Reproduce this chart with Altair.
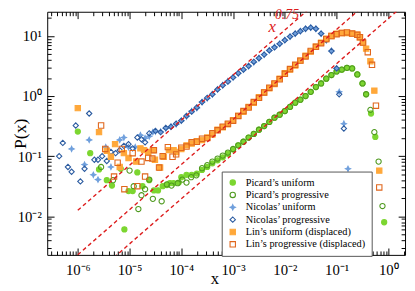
import json
import altair as alt
import pandas as pd

# ---------------- data (log10 of x and P(x)) ----------------
SERIES = ["Picard’s uniform", "Picard’s progressive", "Nicolas’ uniform",
          "Nicolas’ progressive", "Lin’s uniform (displaced)", "Lin’s progressive (displaced)"]

picard_u_lx = [-6.00, -5.76, -5.59, -5.44, -5.34, -5.17, -5.10, -5.02, -4.94, -4.85, -4.75, -4.62,
               -4.53, -4.45, -4.36, -4.28, -4.22, -4.15, -4.05,
               -4.0, -3.9, -3.8, -3.7, -3.6, -3.5, -3.4, -3.3, -3.2, -3.1, -3.0, -2.9, -2.8, -2.7,
               -2.6, -2.5, -2.4, -2.3, -2.2, -2.1, -2.0, -1.9, -1.8, -1.7, -1.6, -1.5, -1.4, -1.3,
               -1.2, -1.1, -1.0, -0.9, -0.8, -0.7, -0.6, -0.5,
               -0.43, -0.335, -0.252, -0.081]
picard_u_ly = [-0.59, -0.95, -1.22, -1.40, -1.49, -1.21, -2.22, -1.58, -1.58, -1.27, -1.50, -1.40,
               -1.57, -1.57, -1.50, -1.48, -1.45, -1.45, -1.44,
               -1.35, -1.31, -1.31, -1.29, -1.23, -1.18, -1.12, -1.07, -1.02, -0.96, -0.89, -0.82,
               -0.76, -0.69, -0.63, -0.56, -0.50, -0.43, -0.36, -0.31, -0.25, -0.18, -0.11, -0.06,
               0.00, 0.07, 0.15, 0.21, 0.29, 0.35, 0.41, 0.44, 0.47, 0.46, 0.36, 0.21,
               0.03, -0.29, -0.68, -2.10]

picard_p_lx = [-5.55, -5.32, -5.00, -4.92, -4.83, -4.77, -4.70, -4.62, -4.55, -4.38, -4.28, -4.19,
               -4.07, -3.98, -3.90, -3.81, -3.71,
               -3.6, -3.5, -3.4, -3.3, -3.2, -3.1, -3.0, -2.9, -2.8, -2.7, -2.6, -2.5, -2.4, -2.3,
               -2.2, -2.1, -2.0, -1.9, -1.8, -1.7, -1.6, -1.5, -1.4, -1.3, -1.2, -1.1, -1.0, -0.9,
               -0.8, -0.7, -0.6, -0.5,
               -0.43, -0.347, -0.271, -0.189, -0.114]
picard_p_ly = [-1.18, -1.40, -1.24, -1.50, -1.88, -1.65, -1.55, -1.39, -1.71, -1.75, -1.47, -1.49,
               -1.45, -1.39, -1.44, -1.35, -1.32,
               -1.20, -1.15, -1.09, -1.04, -0.99, -0.94, -0.88, -0.82, -0.76, -0.69, -0.63, -0.56,
               -0.50, -0.43, -0.36, -0.31, -0.25, -0.18, -0.11, -0.06, 0.00, 0.07, 0.15, 0.21,
               0.29, 0.35, 0.41, 0.44, 0.47, 0.46, 0.36, 0.21,
               0.03, -0.23, -0.60, -1.09, -1.83]

nicolas_u_lx = [-6.12, -5.87, -5.78, -5.70, -5.61, -5.46, -5.36, -5.19, -5.11, -5.02, -4.89, -4.79,
                -4.70, -4.62, -4.55,
                -4.5, -4.4, -4.3, -4.2, -4.1, -4.0, -3.9, -3.8, -3.7, -3.6, -3.5, -3.4, -3.3, -3.2,
                -3.1, -3.0, -2.9, -2.8, -2.7, -2.6, -2.5, -2.4, -2.3, -2.2, -2.1, -2.0, -1.9, -1.8,
                -1.7, -1.6, -1.5, -1.4, -1.3, -1.2, -1.1, -1.0,
                -0.95, -0.86, -0.78]
nicolas_u_ly = [-0.88, -1.14, -0.73, -1.31, -1.39, -0.85, -1.18, -0.73, -0.69, -0.85, -0.85, -0.65,
                -0.70, -0.67, -0.60,
                -0.59, -0.59, -0.54, -0.51, -0.47, -0.41, -0.34, -0.25, -0.20, -0.10, -0.04, 0.03,
                0.11, 0.18, 0.25, 0.31, 0.38, 0.44, 0.50, 0.56, 0.63, 0.69, 0.76, 0.82, 0.87, 0.93,
                0.99, 1.04, 1.08, 1.12, 1.14, 1.12, 1.04, 0.93, 0.75, 0.46,
                0.07, -0.46, -1.21]

nicolas_p_lx = [-6.36, -6.29, -6.19, -6.12, -6.04, -5.95, -5.87, -5.78, -5.68, -5.61, -5.53, -5.44,
                -5.36, -5.27, -5.19, -5.11, -5.02, -4.94, -4.85, -4.77, -4.70, -4.62,
                -4.5, -4.4, -4.3, -4.2, -4.1, -4.0, -3.9, -3.8, -3.7, -3.6, -3.5, -3.4, -3.3, -3.2,
                -3.1, -3.0, -2.9, -2.8, -2.7, -2.6, -2.5, -2.4, -2.3, -2.2, -2.1, -2.0, -1.9, -1.8,
                -1.7, -1.6, -1.5, -1.4, -1.3, -1.2, -1.1, -1.0,
                -0.95, -0.86]
nicolas_p_ly = [-1.00, -0.78, -1.18, -1.26, -0.49, -1.42, -1.21, -0.29, -1.06, -1.06, -1.00, -1.08,
                -0.93, -0.95, -0.90, -0.83, -0.80, -0.87, -0.69, -0.72, -0.77, -0.62,
                -0.58, -0.60, -0.53, -0.51, -0.46, -0.41, -0.33, -0.26, -0.19, -0.10, -0.03, 0.03,
                0.11, 0.18, 0.24, 0.31, 0.38, 0.44, 0.50, 0.57, 0.63, 0.69, 0.76, 0.81, 0.87, 0.93,
                0.99, 1.04, 1.08, 1.12, 1.14, 1.12, 1.04, 0.93, 0.75, 0.46,
                0.03, -0.54]

lin_u_lx = [-6.00, -5.59, -5.44, -5.36, -5.28, -5.19, -5.11, -5.02, -4.87, -4.79, -4.72, -4.64,
            -4.55, -4.51, -4.41, -4.34, -4.24, -4.15,
            -4.1, -4.0, -3.9, -3.8, -3.7, -3.6, -3.5, -3.4, -3.3, -3.2, -3.1, -3.0, -2.9, -2.8,
            -2.7, -2.6, -2.5, -2.4, -2.3, -2.2, -2.1, -2.0, -1.9, -1.8, -1.7, -1.6, -1.5, -1.4,
            -1.3, -1.2, -1.1, -1.0, -0.9, -0.8, -0.7, -0.6,
            -0.55, -0.49, -0.43, -0.347, -0.271, -0.176]
lin_u_ly = [-0.20, -0.60, -0.91, -1.01, -0.80, -1.18, -0.95, -1.03, -1.09, -0.87, -0.90, -0.93,
            -0.90, -1.06, -1.19, -1.01, -0.90, -0.90,
            -0.93, -0.88, -0.82, -0.79, -0.75, -0.73, -0.69, -0.64, -0.56, -0.52, -0.47, -0.40,
            -0.33, -0.26, -0.18, -0.11, -0.02, 0.06, 0.13, 0.20, 0.29, 0.38, 0.44, 0.51, 0.59,
            0.67, 0.74, 0.82, 0.89, 0.95, 1.00, 1.04, 1.05, 1.05, 1.04, 1.02,
            0.98, 0.89, 0.79, 0.58, 0.09, -1.24]

lin_p_lx = [-5.55, -5.47, -5.30, -5.23, -5.15, -5.10, -4.94, -4.85, -4.77, -4.70, -4.64, -4.56,
            -4.53, -4.43, -4.36, -4.26, -4.17,
            -4.1, -4.0, -3.9, -3.8, -3.7, -3.6, -3.5, -3.4, -3.3, -3.2, -3.1, -3.0, -2.9, -2.8,
            -2.7, -2.6, -2.5, -2.4, -2.3, -2.2, -2.1, -2.0, -1.9, -1.8, -1.7, -1.6, -1.5, -1.4,
            -1.3, -1.2, -1.1, -1.0, -0.9, -0.8, -0.7, -0.6,
            -0.55, -0.49, -0.398, -0.316, -0.24, -0.176]
lin_p_ly = [-0.49, -0.88, -1.34, -1.11, -0.88, -1.55, -0.95, -1.50, -1.09, -1.34, -1.03, -1.04,
            -0.90, -1.19, -1.00, -0.85, -1.01,
            -0.97, -0.86, -0.84, -0.77, -0.76, -0.71, -0.70, -0.62, -0.57, -0.51, -0.46, -0.41,
            -0.33, -0.25, -0.19, -0.10, -0.03, 0.06, 0.14, 0.21, 0.28, 0.37, 0.45, 0.52, 0.59,
            0.66, 0.75, 0.82, 0.88, 0.95, 1.00, 1.03, 1.05, 1.06, 1.04, 1.02,
            0.98, 0.89, 0.73, 0.52, -0.16, -1.52]

# x^0.75 guide lines: prefactors and x extent
guide_prefactors = [398.0, 72.4, 19.5]
guide_x_ends = [1e-6, 10.0]

# axis ticks
x_major = [1e-6, 1e-5, 1e-4, 1e-3, 1e-2, 1e-1, 1.0]
x_major_labels = ["10⁻⁶", "10⁻⁵", "10⁻⁴", "10⁻³", "10⁻²", "10⁻¹", "10⁰"]
y_major = [1e-2, 1e-1, 1.0, 10.0]
y_major_labels = ["10⁻²", "10⁻¹", "10⁰", "10¹"]

X_DOMAIN = [2.565e-7, 2.099]
Y_DOMAIN = [2.275e-3, 25.3]

x_minor = [k * 10.0 ** d for d in range(-7, 1) for k in range(2, 10)
           if X_DOMAIN[0] <= k * 10.0 ** d <= X_DOMAIN[1]]
y_minor = [k * 10.0 ** d for d in range(-3, 2) for k in range(2, 10)
           if Y_DOMAIN[0] <= k * 10.0 ** d <= Y_DOMAIN[1]]

# ---------------- styles ----------------
STAR = "M0,-1L0.32,-0.32L1,0L0.32,0.32L0,1L-0.32,0.32L-1,0L-0.32,-0.32Z"
FILLS = ["#7CD630", "transparent", "#6F9FDC", "transparent", "#FFA83A", "transparent"]
STROKES = ["#7CD630", "#4F9A1F", "#6F9FDC", "#2B5BA0", "#FFA83A", "#E0661C"]
SHAPES = ["circle", "circle", STAR, "diamond", "square", "square"]
SIZE_KEYS = ["s0", "s1", "s2", "s3", "s4", "s5"]
SIZES = [28, 30, 34, 28, 24, 24]
RED = "#DD1C1C"
FONT = "Liberation Serif"

rows = []
for i, (lx, ly) in enumerate([(picard_u_lx, picard_u_ly), (picard_p_lx, picard_p_ly),
                              (nicolas_u_lx, nicolas_u_ly), (nicolas_p_lx, nicolas_p_ly),
                              (lin_u_lx, lin_u_ly), (lin_p_lx, lin_p_ly)]):
    for a, b in zip(lx, ly):
        rows.append({"series": SERIES[i], "skey": SIZE_KEYS[i], "x": 10.0 ** a, "y": 10.0 ** b})
df = pd.DataFrame(rows)

guide_df = pd.DataFrame([{"line": i, "x": xv, "y": c * xv ** 0.75}
                         for i, c in enumerate(guide_prefactors) for xv in guide_x_ends])
ann_x_df = pd.DataFrame({"x": [5.7e-3], "y": [14.2], "t": ["x"]})
ann_e_df = pd.DataFrame({"x": [1.1e-2], "y": [22.4], "t": ["0.75"]})

x_scale = alt.Scale(type="log", domain=X_DOMAIN, nice=False)
y_scale = alt.Scale(type="log", domain=Y_DOMAIN, nice=False)

W, H = 365, 248


def ax(orient, values, size, **kw):
    base = dict(orient=orient, values=values, tickSize=size, offset=-size, domain=False,
                grid=False, ticks=True, tickColor="black", tickWidth=1)
    base.update(kw)
    if "labels" not in kw:
        base["labels"] = False
    if "title" not in kw:
        base["title"] = None
    return alt.Axis(**base)


x_expr = "%s[round(log(datum.value)/LN10) + 6]" % json.dumps(x_major_labels, ensure_ascii=False)
y_expr = "%s[round(log(datum.value)/LN10) + 2]" % json.dumps(y_major_labels, ensure_ascii=False)

x_bottom_major = ax("bottom", x_major, 7, labels=True, labelExpr=x_expr, labelFont=FONT,
                    labelFontSize=15, labelPadding=8, labelColor="black", labelFlush=False,
                    labelOverlap=False, title="x", titleFont=FONT, titleFontSize=17,
                    titleFontWeight="normal", titleColor="black", titleX=W / 2 - 12, titleY=36,
                    titleAlign="center", titleBaseline="alphabetic")
y_left_major = ax("left", y_major, 7, labels=True, labelExpr=y_expr, labelFont=FONT,
                  labelFontSize=15, labelPadding=6, labelColor="black", labelFlush=False,
                  labelOverlap=False, title="P(x)", titleFont=FONT, titleFontSize=18,
                  titleFontWeight="normal", titleColor="black", titleX=-34, titleY=H / 2,
                  titleAngle=270, titleAlign="center", titleBaseline="middle")

legend = alt.Legend(orient="none", legendX=178, legendY=163, title=None)

points = alt.Chart(df).mark_point(opacity=1, strokeWidth=1.1).encode(
    x=alt.X("x:Q", scale=x_scale, axis=x_bottom_major),
    y=alt.Y("y:Q", scale=y_scale, axis=y_left_major),
    fill=alt.Fill("series:N", scale=alt.Scale(domain=SERIES, range=FILLS), legend=legend),
    stroke=alt.Stroke("series:N", scale=alt.Scale(domain=SERIES, range=STROKES), legend=legend),
    shape=alt.Shape("series:N", scale=alt.Scale(domain=SERIES, range=SHAPES), legend=legend),
    size=alt.Size("skey:N", scale=alt.Scale(domain=SIZE_KEYS, range=SIZES), legend=None),
)

guides = alt.Chart(guide_df).mark_line(color=RED, strokeDash=[4, 3], strokeWidth=1.4,
                                       clip=True).encode(
    x=alt.X("x:Q", scale=x_scale, axis=ax("bottom", x_minor, 4)),
    y=alt.Y("y:Q", scale=y_scale, axis=ax("left", y_minor, 4)),
    detail="line:N",
)

ann_x = alt.Chart(ann_x_df).mark_text(font=FONT, fontStyle="italic", fontSize=17, color=RED,
                                      align="center", baseline="middle").encode(
    x=alt.X("x:Q", scale=x_scale, axis=ax("top", x_major, 7)),
    y=alt.Y("y:Q", scale=y_scale, axis=ax("right", y_major, 7)),
    text="t:N",
)

ann_e = alt.Chart(ann_e_df).mark_text(font=FONT, fontStyle="italic", fontSize=14, color=RED,
                                      align="center", baseline="middle").encode(
    x=alt.X("x:Q", scale=x_scale, axis=ax("top", x_minor, 4)),
    y=alt.Y("y:Q", scale=y_scale, axis=ax("right", y_minor, 4)),
    text="t:N",
)

chart = alt.layer(points, guides, ann_x, ann_e).resolve_axis(
    x="independent", y="independent"
).properties(
    width=W, height=H,
    autosize=alt.AutoSizeParams(type="none"),
    padding={"left": 40, "top": 1, "right": 2, "bottom": 34},
).configure_view(
    stroke="black", strokeWidth=1
).configure_legend(
    strokeColor="#555555", fillColor="white", padding=6, labelFont=FONT, labelFontSize=10.5,
    labelColor="black", symbolSize=30, symbolStrokeWidth=1.1, rowPadding=1.6, labelOffset=8,
    cornerRadius=0,
)

chart.save("out.html", embed_options={"renderer": "svg", "actions": False})
